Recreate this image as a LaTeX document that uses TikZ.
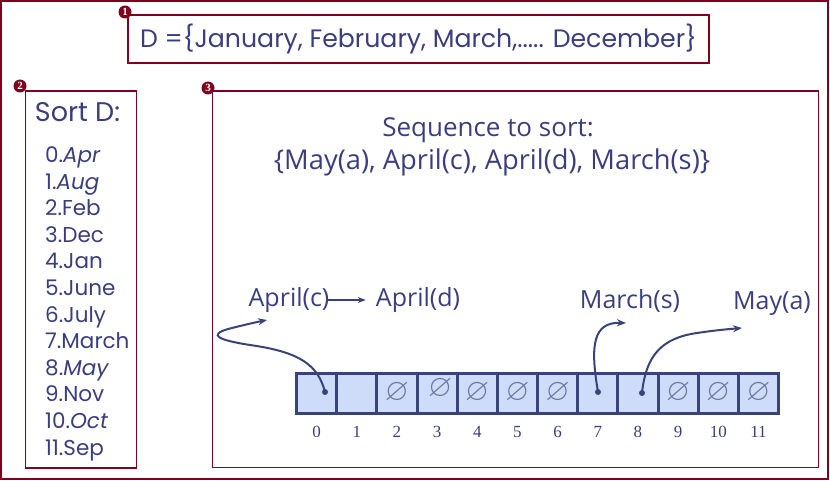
\documentclass[tikz,border=0pt]{standalone}
\usepackage{fontspec}
\usepackage{amssymb}
\usetikzlibrary{arrows.meta}
\newfontfamily\tah{Open Sans}
\newfontfamily\comic{Poppins}
\newfontfamily\ser{Liberation Serif}
\definecolor{framered}{RGB}{128,0,30}
\definecolor{ink}{RGB}{58,62,128}
\definecolor{cellfill}{RGB}{206,220,250}
\definecolor{cellline}{RGB}{56,66,125}
\definecolor{nul}{RGB}{110,118,160}
\begin{document}
\begin{tikzpicture}[x=1pt,y=-1pt,
 panel/.style={draw=framered,line width=1.3pt,inner sep=0pt},
 marker/.style={circle,fill=framered,inner sep=0pt,minimum size=13pt,text=white,font=\ser\bfseries\fontsize{11}{11}\selectfont},
 cell/.style={draw=cellline,fill=cellfill,line width=3pt,minimum width=40.17pt,minimum height=40pt,inner sep=0pt,outer sep=0pt},
 idx/.style={text=ink,font=\ser\fontsize{17}{17}\selectfont,inner sep=0pt},
 lbl/.style={text=ink,font=\tah\fontsize{25}{25}\selectfont,inner sep=0pt},
 item/.style={text=ink,font=\comic\fontsize{21.5}{21.5}\selectfont,inner sep=0pt,anchor=base west},
 dotn/.style={circle,fill=cellline,inner sep=0pt,minimum size=6pt},
 conn/.style={draw=cellline,line width=2pt,-{Stealth[length=9pt,width=7pt]}},
 nulls/.style={text=nul,font=\fontsize{31}{31}\selectfont,inner sep=0pt}
]
\useasboundingbox (0,0) rectangle (830,481);
% outer frame
\draw[draw=framered,line width=2pt] (1,1) rectangle (828,479);
% panels
\node[panel,minimum width=581pt,minimum height=48pt,text=ink,font=\comic\fontsize{25.2}{25.2}\selectfont] (b1) at (418.5,39) {D =\{January, February, March,..... December\}};
\node[panel,minimum width=111pt,minimum height=377pt] (b2) at (81,279.5) {};
\node[panel,minimum width=606pt,minimum height=376.5pt] (b3) at (515.5,279.25) {};
% markers
\node[marker] (m1) at (125,12) {1};
\node[marker] (m2) at (20,86) {2};
\node[marker] (m3) at (208,88) {3};
% list
\node[text=ink,font=\comic\fontsize{27}{27}\selectfont,inner sep=0pt] (sortd) at (77.5,112) {Sort D:};
\foreach \t [count=\i from 0] in {0.\textit{Apr},1.\textit{Aug},2.Feb,3.Dec,4.Jan,5.June,6.July,7.March,8.\textit{May},9.Nov,10.\textit{Oct},11.Sep}
  \node[item] (l\i) at (45,{162.5+26.6*\i}) {\t};
% sequence text
\node[lbl,font=\tah\fontsize{26}{26}\selectfont] (seq1) at (488,130) {Sequence to sort:};
\node[lbl,font=\tah\fontsize{27.3}{27.3}\selectfont] (seq2) at (492,162) {\{May(a), April(c), April(d), March(s)\}};
% array
\foreach \i in {0,...,11} {
  \node[cell] (c\i) at ({296.5+40.17*\i+20.085},393) {};
  \node[idx] (n\i) at ({296.5+40.17*\i+20.085},432) {\i};
}
\foreach \i in {2,4,5,6,9,10,11}
  \node[nulls] (z\i) at (c\i) {$\varnothing$};
\node[nulls] (z3) at ([xshift=3pt,yshift=4pt]c3.center) {$\varnothing$};
% dots
\node[dotn] (d0) at (325,392) {};
\node[dotn] (d7) at (598,392) {};
\node[dotn] (d8) at (642,393) {};
% labels
\node[lbl] (ac) at (289,300) {April(c)};
\node[lbl] (ad) at (418,300) {April(d)};
\node[lbl] (ms) at (630,301) {March(s)};
\node[lbl] (ma) at (772,304) {May(a)};
\coordinate (tipA) at (267,320);
\coordinate (tipM) at (626,323);
\coordinate (tipY) at (742,328);
% connectors
\draw[draw=cellline,line width=1.6pt,-{Stealth[length=8pt,width=6pt]},shorten >=10pt] ([xshift=-2pt]ac.east) -- (ad.west);
\draw[conn] (d0.center) .. controls (318,365) and (300,352) .. (250,345) .. controls (218,340) and (208,335) .. (228,329) .. controls (240,326) and (252,323) .. (tipA);
\draw[conn] (d7.center) .. controls (590,345) and (593,322) .. (tipM);
\draw[conn] (d8.center) .. controls (646,355) and (662,338) .. (697,333) .. controls (717,330) and (730,329) .. (tipY);
\end{tikzpicture}
\end{document}
